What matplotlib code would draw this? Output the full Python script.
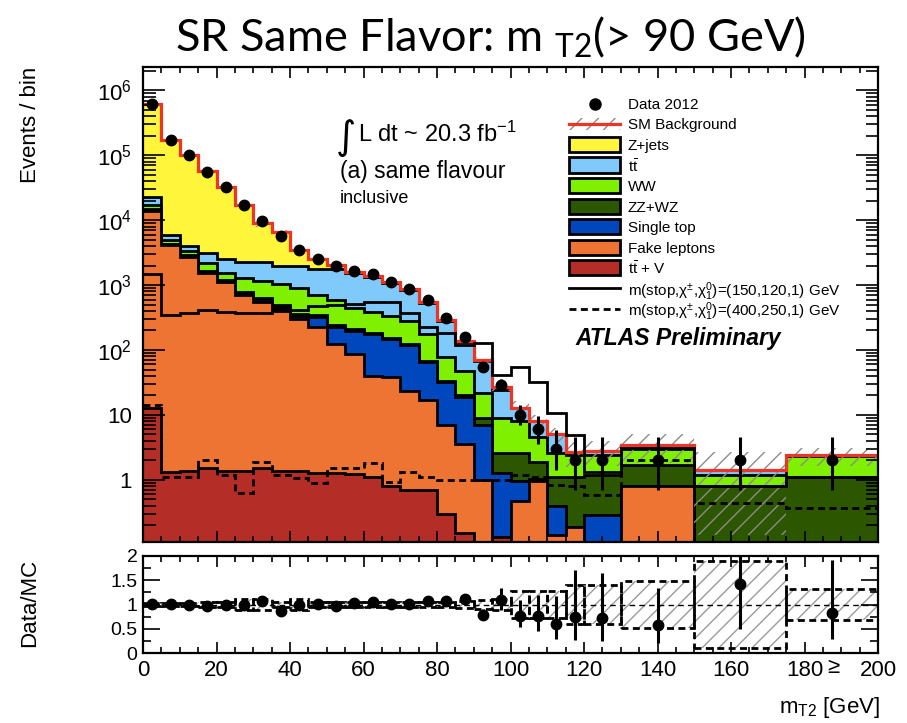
import numpy as np
import matplotlib
matplotlib.use('Agg')
import matplotlib.pyplot as plt
from matplotlib.patches import Rectangle
from matplotlib.lines import Line2D
from matplotlib.ticker import MultipleLocator, LogLocator, FuncFormatter, NullFormatter

plt.rcParams['font.family'] = ['Liberation Sans', 'DejaVu Sans']
plt.rcParams['mathtext.fontset'] = 'custom'
plt.rcParams['mathtext.rm'] = 'Liberation Sans'
plt.rcParams['mathtext.it'] = 'Liberation Sans:italic'
plt.rcParams['mathtext.bf'] = 'Liberation Sans:bold'
plt.rcParams['mathtext.default'] = 'regular'
plt.rcParams['hatch.linewidth'] = 1.0

W, H = 907, 723

# m_T2 bins [GeV]
edges = [0, 5, 10, 15, 20, 25, 30, 35, 40, 45, 50, 55, 60, 65, 70, 75, 80, 85,
         90, 95, 100, 105, 110, 115, 120, 130, 150, 175, 200]

# data 2012
data = [6.2e5, 1.7e5, 1.0e5, 5.5e4, 3.2e4, 1.7e4, 9.6e3, 5.7e3, 3.5e3, 2.5e3,
        2.0e3, 1.66e3, 1.46e3, 1.1e3, 860, 590, 316, 157, 55, 29,
        10, 6, 3, 2, 2, 2, 2, 2]
data_err_lo = [790, 412, 316, 235, 179, 130, 98, 75, 59, 50,
               45, 41, 38, 33, 29, 24, 18, 12.5, 7.4, 5.4,
               3.1, 2.4, 1.6, 1.3, 1.3, 1.3, 1.3, 1.3]
data_err_hi = [790, 412, 316, 235, 179, 130, 98, 75, 59, 50,
               45, 41, 38, 33, 29, 24, 18, 12.5, 8.4, 6.4,
               4.3, 3.6, 2.9, 2.6, 2.6, 2.6, 2.6, 2.6]

# background components (events / bin)
ttv = [13, 1.34, 1.37, 1.5, 1.37, 1.37, 1.5, 1.37, 1.37, 1.27,
       1.27, 1.25, 1.12, 0.8, 0.7, 0.7, 0.3, 0.15, 0.05, 0.13,
       0.02, 0.02, 0, 0, 0, 0, 0, 0]
fake = [14000, 4100, 2700, 1550, 1100, 700, 550, 420, 300, 227,
        124, 87, 39, 37, 23, 16, 6.7, 3.4, 0.95, 0,
        0.45, 0.95, 0.14, 0.19, 0, 0.79, 0, 0]
single_top = [500, 200, 150, 70, 50, 60, 50, 45, 30, 100,
              100, 110, 135, 112, 96, 49, 25, 15.5, 6, 1.14,
              0.5, 0.05, 0.25, 0, 0.29, 0, 0, 0]
zz_wz = [300, 30, 30, 40, 30, 30, 30, 30, 25, 20,
         15, 10, 8, 6, 5, 3, 1.5, 1, 2, 1.33,
         1.6, 0.85, 0.7, 0.93, 0.91, 0.9, 0.79, 1.12]
ww = [2200, 570, 420, 540, 380, 510, 520, 545, 545, 350,
      340, 232, 207, 174, 155, 106, 44.5, 27, 13, 6.4,
      5.4, 2.7, 1.5, 1.28, 1.2, 1.3, 0.41, 1.18]
ttbar = [6000, 1000, 700, 900, 940, 1000, 1150, 960, 1050, 1100,
         1170, 1110, 950, 750, 565, 361, 207, 88, 45, 15.5,
         4.7, 3.4, 2.4, 0.3, 0.4, 0.45, 0.2, 0.1]
z_jets = [5.87e5, 1.64e5, 9.6e4, 5.39e4, 2.95e4, 1.47e4, 6.7e3, 4.6e3, 1.55e3, 700,
          310, 50, 50, 20, 15, 10, 8, 5, 3, 2,
          0.3, 0, 0, 0, 0, 0, 0, 0]

# relative SM uncertainty
sm_unc = [0.04, 0.04, 0.04, 0.05, 0.05, 0.12, 0.12, 0.06, 0.12, 0.06,
          0.05, 0.05, 0.05, 0.05, 0.05, 0.05, 0.06, 0.07, 0.10, 0.12,
          0.27, 0.27, 0.27, 0.41, 0.41, 0.48, 0.90, 0.31]

# signal points
sig_150_120 = [1500, 350, 370, 410, 380, 370, 370, 400, 420, 480,
               500, 520, 540, 550, 370, 230, 180, 120, 127, 41,
               55, 32, 10.6, 4.9, 1.3, 3.1, 0.8, 1.1]
sig_400_250 = [14, 1.12, 1.12, 2.0, 1.19, 0.63, 1.85, 1.19, 1.06, 0.89,
               1.5, 1.5, 1.8, 0.94, 1.34, 1.12, 1.0, 1.0, 1.0, 1.0,
               1.2, 1.1, 0.84, 0.79, 0.59, 2.0, 0.44, 0.37]

colors = ['#b52d27', '#ee7433', '#0046bd', '#2c5700', '#7ff000', '#80c9fb', '#fff53a']
sm_red = '#ee3424'

edges = np.array(edges, dtype=float)
centers = 0.5 * (edges[1:] + edges[:-1])
widths = np.diff(edges)
data = np.array(data)
unc = np.array(sm_unc)
stack = np.array([ttv, fake, single_top, zz_wz, ww, ttbar, z_jets], dtype=float)
cum = np.cumsum(stack, axis=0)
total = cum[-1]
floor = 1e-3

fig = plt.figure(figsize=(W / 100, H / 100), dpi=100)
ax = fig.add_axes([143 / W, 1 - 542 / H, (878 - 143) / W, (542 - 67) / H])
ax2 = fig.add_axes([143 / W, 1 - 653 / H, (878 - 143) / W, (653 - 556) / H])

# ---- main panel
for vals, col in reversed(list(zip(cum, colors))):
    v = np.maximum(vals, floor)
    ax.stairs(v, edges, baseline=floor, fill=True, color=col, lw=0)
    ax.stairs(v, edges, baseline=None, color='k', lw=2)

ax.stairs(total * (1 + unc), edges, baseline=total * (1 - unc), fill=True,
          facecolor='none', edgecolor='#8c8c8c', hatch='//', lw=0)
ax.stairs(total, edges, baseline=None, color=sm_red, lw=2.3)
ax.stairs(sig_150_120, edges, baseline=None, color='k', lw=2)
ax.stairs(sig_400_250, edges, baseline=None, color='k', lw=2, ls=(0, (2.5, 1.6)))
ax.errorbar(centers, data, yerr=[data_err_lo, data_err_hi], fmt='o', color='k',
            ms=7.5, elinewidth=2.2, capsize=0, zorder=10)

ax.set_yscale('log')
ax.set_xlim(0, 200)
ax.set_ylim(0.11, 2.3e6)
ax.yaxis.set_major_locator(LogLocator(base=10, numticks=15))
ax.yaxis.set_minor_locator(LogLocator(base=10, subs=np.arange(2, 10), numticks=15))
ax.yaxis.set_minor_formatter(NullFormatter())


def log_label(v, pos):
    if v == 1:
        return '1'
    if v == 10:
        return '10'
    return r'$10^{%d}$' % int(round(np.log10(v)))


ax.yaxis.set_major_formatter(FuncFormatter(log_label))
ax.xaxis.set_major_locator(MultipleLocator(20))
ax.xaxis.set_minor_locator(MultipleLocator(5))
ax.tick_params(which='both', direction='in', top=True, right=True, labelbottom=False,
               width=1.2, labelsize=16, pad=8)
ax.tick_params(axis='y', which='major', length=16)
ax.tick_params(axis='y', which='minor', length=9)
ax.tick_params(axis='x', which='major', length=8)
ax.tick_params(axis='x', which='minor', length=4.5)
for s in ax.spines.values():
    s.set_linewidth(1.6)

# ---- ratio panel
ratio = data / total
ratio_lo = np.array(data_err_lo) / total
ratio_hi = np.array(data_err_hi) / total
ax2.bar(centers, 2 * unc, width=widths, bottom=1 - unc, facecolor='none',
        edgecolor='#9a9a9a', hatch='//', lw=0)
ax2.bar(centers, 2 * unc, width=widths, bottom=1 - unc, fill=False,
        edgecolor='k', ls=(0, (2.5, 1.6)), lw=2)
ax2.axhline(1, color='k', ls=(0, (4, 3)), lw=1)
ax2.errorbar(centers, ratio, yerr=[ratio_lo, ratio_hi], fmt='o', color='k',
             ms=7.5, elinewidth=2.2, capsize=0, zorder=10)
ax2.set_xlim(0, 200)
ax2.set_ylim(0, 2)
ax2.yaxis.set_major_locator(MultipleLocator(0.5))
ax2.yaxis.set_minor_locator(MultipleLocator(0.25))
ax2.yaxis.set_major_formatter(FuncFormatter(lambda v, p: '%g' % v))
ax2.xaxis.set_major_locator(MultipleLocator(20))
ax2.xaxis.set_minor_locator(MultipleLocator(5))
ax2.xaxis.set_major_formatter(FuncFormatter(lambda v, p: '%g' % v))
ax2.tick_params(which='both', direction='in', top=True, right=True, width=1.2)
ax2.tick_params(axis='y', which='major', length=12, pad=4, labelsize=14)
ax2.tick_params(axis='y', which='minor', length=6)
ax2.tick_params(axis='x', which='major', length=8, pad=5, labelsize=16)
ax2.tick_params(axis='x', which='minor', length=4.5)
for s in ax2.spines.values():
    s.set_linewidth(1.6)
ax2.text(187.8, -0.045, u'\u2265', transform=ax2.get_xaxis_transform(),
         ha='center', va='top', fontsize=16)


def fx(x):
    return x / W


def fy(y):
    return 1 - y / H


# ---- legend (drawn by hand, ROOT style)
leg_rows = [('Data 2012', 'data'), ('SM Background', 'sm')]
leg_rows += [(r'Z+jets', colors[6]), (r'$t\bar{t}$', colors[5]), ('WW', colors[4]),
             ('ZZ+WZ', colors[3]), ('Single top', colors[2]), ('Fake leptons', colors[1]),
             (r'$t\bar{t}$ + V', colors[0])]
leg_rows += [(r'm(stop,$\chi^{\pm}$,$\chi^{0}_{1}$)=(150,120,1) GeV', 'solid'),
             (r'm(stop,$\chi^{\pm}$,$\chi^{0}_{1}$)=(400,250,1) GeV', 'dashed')]
x0, x1, y0, dy = 569, 620, 103.5, 20.5
for i, (lab, kind) in enumerate(leg_rows):
    y = y0 + dy * i
    if kind == 'data':
        fig.add_artist(Line2D([fx(594.5)], [fy(y)], marker='o', ms=8, color='k',
                              transform=fig.transFigure))
    elif kind == 'sm':
        fig.add_artist(Rectangle((fx(x0), fy(y + 6)), fx(x1 - x0), 12 / H, facecolor='none',
                                 edgecolor='#8c8c8c', hatch='//', lw=0,
                                 transform=fig.transFigure))
        fig.add_artist(Line2D([fx(x0), fx(x1)], [fy(y), fy(y)], color=sm_red, lw=2.3,
                              transform=fig.transFigure))
    elif kind == 'solid':
        fig.add_artist(Line2D([fx(x0), fx(x1)], [fy(y), fy(y)], color='k', lw=2,
                              transform=fig.transFigure))
    elif kind == 'dashed':
        fig.add_artist(Line2D([fx(x0), fx(x1)], [fy(y), fy(y)], color='k', lw=2,
                              ls=(0, (2.5, 1.6)), transform=fig.transFigure))
    else:
        fig.add_artist(Rectangle((fx(x0), fy(y + 7.5)), fx(x1 - x0), 15 / H,
                                 facecolor=kind, edgecolor='k', lw=2,
                                 transform=fig.transFigure))
    fig.text(fx(628), fy(y), lab, ha='left', va='center_baseline', fontsize=11)

# ---- labels
fig.text(fx(346), fy(138), u'\u222b', ha='center', va='center', fontsize=28,
         family=['DejaVu Sans'])
fig.text(fx(358), fy(142), r'L dt ~ 20.3 fb$^{-1}$', ha='left', va='baseline', fontsize=17)
fig.text(fx(340), fy(178), '(a) same flavour', ha='left', va='baseline', fontsize=16.5)
fig.text(fx(340), fy(203), 'inclusive', ha='left', va='baseline', fontsize=13)
fig.text(fx(575), fy(345), 'ATLAS Preliminary', ha='left', va='baseline', fontsize=16.5,
         fontweight='bold', fontstyle='italic')

fig.text(fx(30), fy(67), 'Events / bin', rotation=90, ha='center', va='top', fontsize=16)
fig.text(fx(30), fy(603), 'Data/MC', rotation=90, ha='center', va='center', fontsize=16)
fig.text(fx(880), fy(713), r'm$_{T2}$ [GeV]', ha='right', va='baseline', fontsize=16)
fig.text(fx(490), fy(37), r'SR Same Flavor: m $_{T2}$(> 90 GeV)', ha='center', va='center',
         fontsize=32.5, family=['Lato', 'DejaVu Sans'])

fig.savefig('out.png', dpi=100)
